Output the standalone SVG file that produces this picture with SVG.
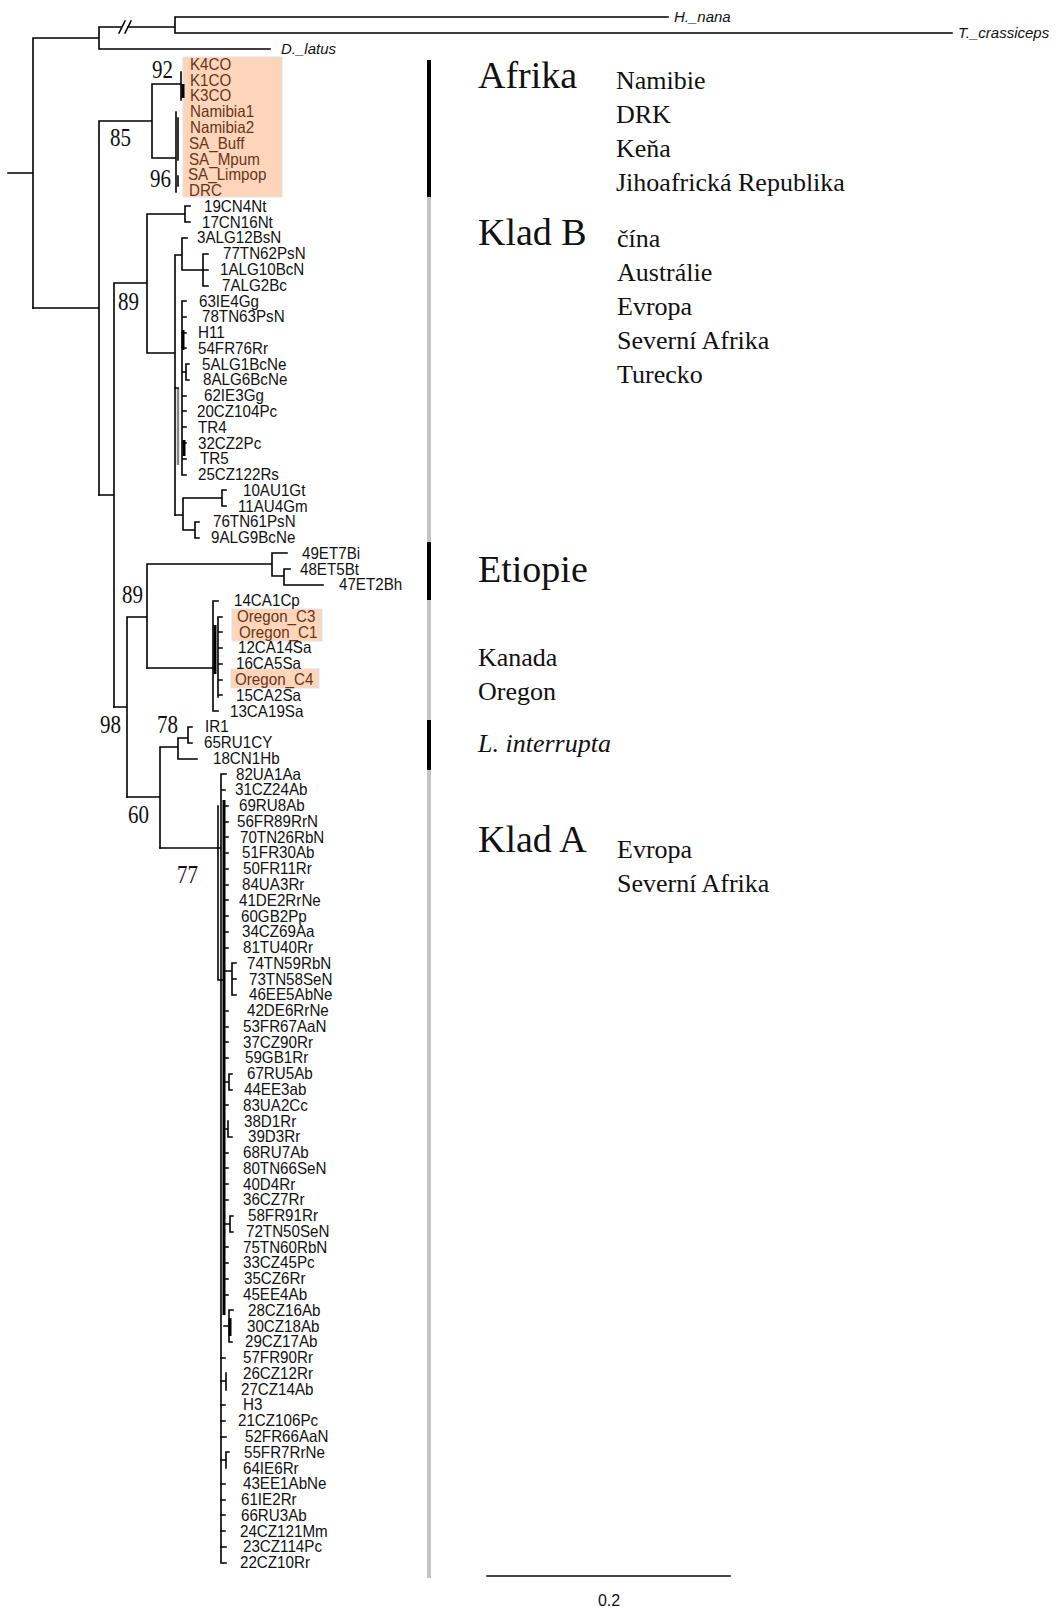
<svg xmlns="http://www.w3.org/2000/svg" width="1056" height="1609" viewBox="0 0 1056 1609">
<style>
.br{stroke:#000;stroke-width:1.6;fill:none;stroke-linecap:square}
.th{stroke:#000;stroke-width:3;fill:none}
.gr{stroke:#888;stroke-width:2.5;fill:none}
.tx{font-family:"Liberation Sans",Arial,sans-serif;font-size:16.5px;fill:#111;transform:scaleX(0.92);transform-box:fill-box;transform-origin:0 0}
.sc{font-family:"Liberation Sans",Arial,sans-serif;font-size:16px;fill:#111}
.af{fill:#6a3515}
.og{font-family:"Liberation Sans",Arial,sans-serif;font-size:15px;font-style:italic;fill:#111}
.sup{font-family:"Liberation Serif","Times New Roman",serif;font-size:25px;fill:#111}
.big{font-family:"Liberation Serif","Times New Roman",serif;font-size:38px;fill:#111}
.reg{font-family:"Liberation Serif","Times New Roman",serif;font-size:26px;fill:#111}
.box{fill:#fcd5bb;stroke:#e2e2e2;stroke-width:1}
.barB{fill:#000}
.barG{fill:#c4c4c4}
</style>
<rect width="1056" height="1609" fill="#fff"/>

<g id="highlights">
<rect class="box" x="183" y="57" width="99" height="140"/>
<rect class="box" x="232" y="609" width="90" height="32"/>
<rect class="box" x="231" y="669" width="88" height="19"/>
</g>

<g id="connectors">
<path class="br" d="M8,173H33M33,38V308M33,38H99M99,27V49M99,27H121M128,27H175M175,17V33M175,17H668M175,33H952M99,49H270"/>
<path class="br" d="M119,33L125,21M125,33L131,21"/>
<path class="br" d="M33,308H99M99,121V495M99,121H152M152,84V158M152,84H181M181,72V100M152,158H176M176,112V192"/>
<path class="th" d="M183,84V98"/>
<path class="br" d="M178,118V160M178,176V186"/>
<path class="br" d="M99,495H114M114,283V707M114,283H147M147,214V353M147,214H185M185,206V222M185,206H190M185,222H190M147,353H175M175,255V515M175,255H182M182,238V270M182,238H187M182,270H203M203,254V286M203,254H208M203,270H208M203,286H208"/>
<path class="gr" d="M178,388V465"/>
<path class="br" d="M175,388H178M182,301V475M182,301H186M182,317H186M182,333H186M182,348H186M182,372H186M186,364V380M186,364H189M186,380H189M182,396H186M182,411H186M182,427H186M182,443H186M182,459H186M182,475H186"/>
<path class="th" d="M183,330V350M184,440V456"/>
<path class="br" d="M175,515H183M183,498V530M183,498H222M222,490V506M222,490H226M222,506H226M183,530H195M195,522V538M195,522H199M195,538H199"/>
<path class="br" d="M114,707H127M127,617V797M127,617H147M147,564V668M147,564H272M272,553V576M272,553H287M272,576H284M284,569V585M284,569H290M284,585H323"/>
<path class="br" d="M147,668H213M213,601V711M213,601H218M213,711H218M218,617V697M218,617H222M218,632H222M218,648H222M218,664H222M218,680H222M218,695H222"/>
<path class="th" d="M215,625V674"/>
<path class="br" d="M127,797H160M160,747V848M160,747H178M178,738V759M178,738H188M188,727V743M188,727H192M188,743H192M178,759H197"/>
<path class="br" d="M160,848H221M221,774V1563M221,774H226M221,790H225M218,806V980H224M221,1563H226"/>
<path class="th" d="M224,800V1315"/>
<path class="br" d="M224,806H228M224,822H228M224,837H228M224,853H228M224,869H228M224,885H228M224,900H228M224,916H228M224,932H228M224,948H228M224,971H232M232,963V995M232,963H236M232,979H236M232,995H236M224,1011H228M224,1027H228M224,1042H228M224,1058H228M224,1082H229M229,1074V1090M229,1074H232M229,1090H232M224,1105H228M224,1129H228M228,1121V1137M228,1137H232M224,1153H228M224,1168H228M224,1184H228M224,1200H228M224,1224H230M230,1216V1232M230,1216H233M230,1232H233M224,1247H228M224,1263H228M224,1279H228M224,1295H228M224,1326H229M229,1310V1342M229,1310H233M229,1342H232M221,1358H225M221,1381H226M226,1373V1390M221,1405H225M221,1421H225M221,1437H226M221,1460H226M226,1452V1468M226,1452H229M221,1484H225M221,1500H225M221,1515H225M221,1531H225M221,1547H226"/>
<path class="th" d="M230,1318V1336"/>
<path class="br" d="M487,1576H730"/>
</g>

<g id="outgroups">
<g id="n-H_nana"><text class="og" x="674" y="22">H._nana</text></g>
<g id="n-T_crassiceps"><text class="og" x="958" y="38">T._crassiceps</text></g>
<g id="n-D_latus"><text class="og" x="281" y="54">D._latus</text></g>
</g>

<g id="support">
<text class="sup" x="152" y="78" textLength="21" lengthAdjust="spacingAndGlyphs">92</text>
<text class="sup" x="110" y="146" textLength="21" lengthAdjust="spacingAndGlyphs">85</text>
<text class="sup" x="150" y="187" textLength="21" lengthAdjust="spacingAndGlyphs">96</text>
<text class="sup" x="118" y="310" textLength="21" lengthAdjust="spacingAndGlyphs">89</text>
<text class="sup" x="122" y="603" textLength="21" lengthAdjust="spacingAndGlyphs">89</text>
<text class="sup" x="100" y="733" textLength="21" lengthAdjust="spacingAndGlyphs">98</text>
<text class="sup" x="157" y="733" textLength="21" lengthAdjust="spacingAndGlyphs">78</text>
<text class="sup" x="128" y="823" textLength="21" lengthAdjust="spacingAndGlyphs">60</text>
<text class="sup" x="177" y="883" textLength="21" lengthAdjust="spacingAndGlyphs">77</text>
</g>

<g id="leaves-afrika">
<g id="n-K4CO"><text class="tx af" x="190" y="70">K4CO</text></g>
<g id="n-K1CO"><text class="tx af" x="190" y="86">K1CO</text></g>
<g id="n-K3CO"><text class="tx af" x="190" y="101">K3CO</text></g>
<g id="n-Namibia1"><text class="tx af" x="190" y="117">Namibia1</text></g>
<g id="n-Namibia2"><text class="tx af" x="190" y="133">Namibia2</text></g>
<g id="n-SA_Buff"><text class="tx af" x="189" y="149">SA_Buff</text></g>
<g id="n-SA_Mpum"><text class="tx af" x="189" y="165">SA_Mpum</text></g>
<g id="n-SA_Limpop"><text class="tx af" x="188" y="180">SA_Limpop</text></g>
<g id="n-DRC"><text class="tx af" x="189" y="196">DRC</text></g>
</g>

<g id="leaves-kladB">
<g id="n-19CN4Nt"><text class="tx" x="204" y="212">19CN4Nt</text></g>
<g id="n-17CN16Nt"><text class="tx" x="202" y="228">17CN16Nt</text></g>
<g id="n-3ALG12BsN"><text class="tx" x="197" y="243">3ALG12BsN</text></g>
<g id="n-77TN62PsN"><text class="tx" x="223" y="259">77TN62PsN</text></g>
<g id="n-1ALG10BcN"><text class="tx" x="220" y="275">1ALG10BcN</text></g>
<g id="n-7ALG2Bc"><text class="tx" x="222" y="291">7ALG2Bc</text></g>
<g id="n-63IE4Gg"><text class="tx" x="199" y="307">63IE4Gg</text></g>
<g id="n-78TN63PsN"><text class="tx" x="202" y="322">78TN63PsN</text></g>
<g id="n-H11"><text class="tx" x="198" y="338">H11</text></g>
<g id="n-54FR76Rr"><text class="tx" x="198" y="354">54FR76Rr</text></g>
<g id="n-5ALG1BcNe"><text class="tx" x="202" y="370">5ALG1BcNe</text></g>
<g id="n-8ALG6BcNe"><text class="tx" x="203" y="385">8ALG6BcNe</text></g>
<g id="n-62IE3Gg"><text class="tx" x="204" y="401">62IE3Gg</text></g>
<g id="n-20CZ104Pc"><text class="tx" x="197" y="417">20CZ104Pc</text></g>
<g id="n-TR4"><text class="tx" x="198" y="433">TR4</text></g>
<g id="n-32CZ2Pc"><text class="tx" x="198" y="449">32CZ2Pc</text></g>
<g id="n-TR5"><text class="tx" x="200" y="464">TR5</text></g>
<g id="n-25CZ122Rs"><text class="tx" x="198" y="480">25CZ122Rs</text></g>
<g id="n-10AU1Gt"><text class="tx" x="243" y="496">10AU1Gt</text></g>
<g id="n-11AU4Gm"><text class="tx" x="238" y="512">11AU4Gm</text></g>
<g id="n-76TN61PsN"><text class="tx" x="213" y="527">76TN61PsN</text></g>
<g id="n-9ALG9BcNe"><text class="tx" x="211" y="543">9ALG9BcNe</text></g>
</g>

<g id="leaves-etiopie">
<g id="n-49ET7Bi"><text class="tx" x="302" y="559">49ET7Bi</text></g>
<g id="n-48ET5Bt"><text class="tx" x="300" y="575">48ET5Bt</text></g>
<g id="n-47ET2Bh"><text class="tx" x="339" y="590">47ET2Bh</text></g>
</g>

<g id="leaves-kanada">
<g id="n-14CA1Cp"><text class="tx" x="234" y="606">14CA1Cp</text></g>
<g id="n-Oregon_C3"><text class="tx af" x="237" y="622">Oregon_C3</text></g>
<g id="n-Oregon_C1"><text class="tx af" x="239" y="638">Oregon_C1</text></g>
<g id="n-12CA14Sa"><text class="tx" x="238" y="653">12CA14Sa</text></g>
<g id="n-16CA5Sa"><text class="tx" x="236" y="669">16CA5Sa</text></g>
<g id="n-Oregon_C4"><text class="tx af" x="235" y="685">Oregon_C4</text></g>
<g id="n-15CA2Sa"><text class="tx" x="236" y="701">15CA2Sa</text></g>
<g id="n-13CA19Sa"><text class="tx" x="230" y="717">13CA19Sa</text></g>
</g>

<g id="leaves-interrupta">
<g id="n-IR1"><text class="tx" x="205" y="732">IR1</text></g>
<g id="n-65RU1CY"><text class="tx" x="204" y="748">65RU1CY</text></g>
<g id="n-18CN1Hb"><text class="tx" x="213" y="764">18CN1Hb</text></g>
</g>

<g id="leaves-kladA">
<g id="n-82UA1Aa"><text class="tx" x="236" y="780">82UA1Aa</text></g>
<g id="n-31CZ24Ab"><text class="tx" x="235" y="795">31CZ24Ab</text></g>
<g id="n-69RU8Ab"><text class="tx" x="239" y="811">69RU8Ab</text></g>
<g id="n-56FR89RrN"><text class="tx" x="237" y="827">56FR89RrN</text></g>
<g id="n-70TN26RbN"><text class="tx" x="240" y="843">70TN26RbN</text></g>
<g id="n-51FR30Ab"><text class="tx" x="242" y="858">51FR30Ab</text></g>
<g id="n-50FR11Rr"><text class="tx" x="243" y="874">50FR11Rr</text></g>
<g id="n-84UA3Rr"><text class="tx" x="242" y="890">84UA3Rr</text></g>
<g id="n-41DE2RrNe"><text class="tx" x="239" y="906">41DE2RrNe</text></g>
<g id="n-60GB2Pp"><text class="tx" x="241" y="922">60GB2Pp</text></g>
<g id="n-34CZ69Aa"><text class="tx" x="242" y="937">34CZ69Aa</text></g>
<g id="n-81TU40Rr"><text class="tx" x="243" y="953">81TU40Rr</text></g>
<g id="n-74TN59RbN"><text class="tx" x="247" y="969">74TN59RbN</text></g>
<g id="n-73TN58SeN"><text class="tx" x="249" y="985">73TN58SeN</text></g>
<g id="n-46EE5AbNe"><text class="tx" x="249" y="1000">46EE5AbNe</text></g>
<g id="n-42DE6RrNe"><text class="tx" x="247" y="1016">42DE6RrNe</text></g>
<g id="n-53FR67AaN"><text class="tx" x="243" y="1032">53FR67AaN</text></g>
<g id="n-37CZ90Rr"><text class="tx" x="243" y="1048">37CZ90Rr</text></g>
<g id="n-59GB1Rr"><text class="tx" x="245" y="1063">59GB1Rr</text></g>
<g id="n-67RU5Ab"><text class="tx" x="247" y="1079">67RU5Ab</text></g>
<g id="n-44EE3ab"><text class="tx" x="244" y="1095">44EE3ab</text></g>
<g id="n-83UA2Cc"><text class="tx" x="243" y="1111">83UA2Cc</text></g>
<g id="n-38D1Rr"><text class="tx" x="244" y="1127">38D1Rr</text></g>
<g id="n-39D3Rr"><text class="tx" x="248" y="1142">39D3Rr</text></g>
<g id="n-68RU7Ab"><text class="tx" x="243" y="1158">68RU7Ab</text></g>
<g id="n-80TN66SeN"><text class="tx" x="243" y="1174">80TN66SeN</text></g>
<g id="n-40D4Rr"><text class="tx" x="243" y="1190">40D4Rr</text></g>
<g id="n-36CZ7Rr"><text class="tx" x="243" y="1205">36CZ7Rr</text></g>
<g id="n-58FR91Rr"><text class="tx" x="248" y="1221">58FR91Rr</text></g>
<g id="n-72TN50SeN"><text class="tx" x="246" y="1237">72TN50SeN</text></g>
<g id="n-75TN60RbN"><text class="tx" x="243" y="1253">75TN60RbN</text></g>
<g id="n-33CZ45Pc"><text class="tx" x="243" y="1268">33CZ45Pc</text></g>
<g id="n-35CZ6Rr"><text class="tx" x="244" y="1284">35CZ6Rr</text></g>
<g id="n-45EE4Ab"><text class="tx" x="243" y="1300">45EE4Ab</text></g>
<g id="n-28CZ16Ab"><text class="tx" x="248" y="1316">28CZ16Ab</text></g>
<g id="n-30CZ18Ab"><text class="tx" x="247" y="1332">30CZ18Ab</text></g>
<g id="n-29CZ17Ab"><text class="tx" x="245" y="1347">29CZ17Ab</text></g>
<g id="n-57FR90Rr"><text class="tx" x="243" y="1363">57FR90Rr</text></g>
<g id="n-26CZ12Rr"><text class="tx" x="243" y="1379">26CZ12Rr</text></g>
<g id="n-27CZ14Ab"><text class="tx" x="241" y="1395">27CZ14Ab</text></g>
<g id="n-H3"><text class="tx" x="243" y="1410">H3</text></g>
<g id="n-21CZ106Pc"><text class="tx" x="238" y="1426">21CZ106Pc</text></g>
<g id="n-52FR66AaN"><text class="tx" x="245" y="1442">52FR66AaN</text></g>
<g id="n-55FR7RrNe"><text class="tx" x="244" y="1458">55FR7RrNe</text></g>
<g id="n-64IE6Rr"><text class="tx" x="243" y="1474">64IE6Rr</text></g>
<g id="n-43EE1AbNe"><text class="tx" x="243" y="1489">43EE1AbNe</text></g>
<g id="n-61IE2Rr"><text class="tx" x="241" y="1505">61IE2Rr</text></g>
<g id="n-66RU3Ab"><text class="tx" x="241" y="1521">66RU3Ab</text></g>
<g id="n-24CZ121Mm"><text class="tx" x="240" y="1537">24CZ121Mm</text></g>
<g id="n-23CZ114Pc"><text class="tx" x="243" y="1552">23CZ114Pc</text></g>
<g id="n-22CZ10Rr"><text class="tx" x="240" y="1568">22CZ10Rr</text></g>
</g>

<g id="clade-bars">
<rect class="barB" x="427" y="60" width="4" height="137"/>
<rect class="barG" x="427" y="197" width="4" height="345"/>
<rect class="barB" x="427" y="542" width="4" height="58"/>
<rect class="barG" x="427" y="600" width="4" height="120"/>
<rect class="barB" x="427" y="720" width="4" height="50"/>
<rect class="barG" x="427" y="770" width="4" height="808"/>
</g>

<g id="clade-afrika">
<text class="big" x="478" y="88">Afrika</text>
<text class="reg" x="616" y="89">Namibie</text>
<text class="reg" x="616" y="123">DRK</text>
<text class="reg" x="616" y="157">Keňa</text>
<text class="reg" x="616" y="191">Jihoafrická Republika</text>
</g>
<g id="clade-kladB">
<text class="big" x="478" y="245">Klad B</text>
<text class="reg" x="617" y="247">čína</text>
<text class="reg" x="617" y="281">Austrálie</text>
<text class="reg" x="617" y="315">Evropa</text>
<text class="reg" x="617" y="349">Severní Afrika</text>
<text class="reg" x="617" y="383">Turecko</text>
</g>
<g id="clade-etiopie">
<text class="big" x="478" y="582">Etiopie</text>
</g>
<g id="clade-kanada">
<text class="reg" x="478" y="666">Kanada</text>
<text class="reg" x="478" y="700">Oregon</text>
</g>
<g id="clade-interrupta">
<text class="reg" x="478" y="752" font-style="italic">L. interrupta</text>
</g>
<g id="clade-kladA">
<text class="big" x="478" y="852">Klad A</text>
<text class="reg" x="617" y="858">Evropa</text>
<text class="reg" x="617" y="892">Severní Afrika</text>
</g>

<g id="scale">
<text class="sc" x="609" y="1606" text-anchor="middle">0.2</text>
</g>
</svg>
